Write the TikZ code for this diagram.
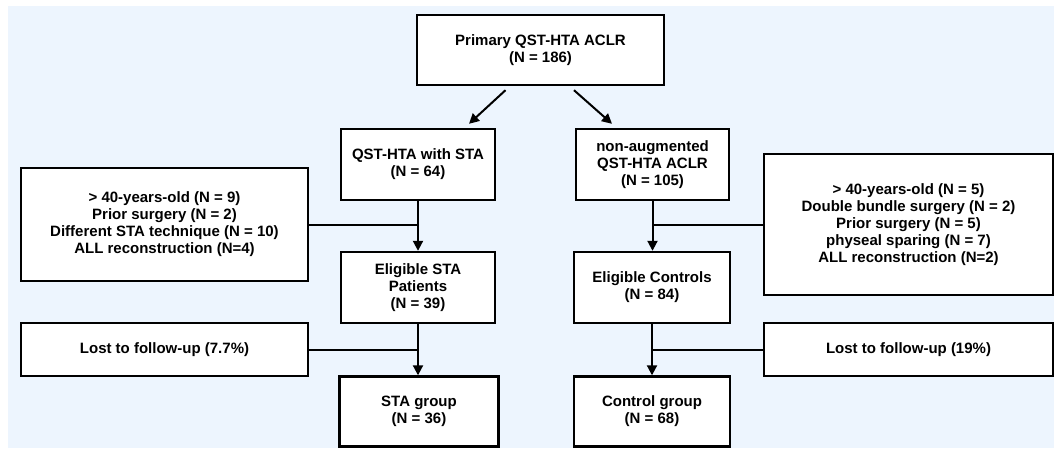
\documentclass[tikz,border=0pt]{standalone}
\usepackage{fontspec}
\setmainfont{Liberation Sans}
\usetikzlibrary{arrows.meta}
\usetikzlibrary{shapes,positioning}
\definecolor{panel}{RGB}{237,245,254}
\tikzset{>={Triangle[length=10pt,width=10pt]},
  flowbox/.style={draw,line width=2.4pt,fill=white,align=center,inner sep=0pt,
    font=\fontsize{15}{17}\selectfont\bfseries},
  link/.style={line width=2pt}}
\begin{document}
\begin{tikzpicture}[x=1pt,y=-1pt,line cap=butt]

  \useasboundingbox (0,0) rectangle (1054,448);
  \fill [panel] (8,6) rectangle (1054,448);

  % top box
  \node [flowbox,minimum width=247pt,minimum height=70pt] (primary) at (540.5,50) {Primary QST-HTA ACLR\\(N = 186)};

  % second row
  \node [flowbox,minimum width=154pt,minimum height=71pt] (withsta) at (418,164.5) {QST-HTA with STA\\(N = 64)};
  \node [flowbox,minimum width=153pt,minimum height=71pt] (nonaug) at (652.5,164.5) {non-augmented\\QST-HTA ACLR\\(N = 105)};

  % exclusions
  \node [flowbox,minimum width=287pt,minimum height=113pt] (exclsta) at (164.5,224.5) {> 40-years-old (N = 9)\\Prior surgery (N = 2)\\Different STA technique (N = 10)\\ALL reconstruction (N=4)};
  \node [flowbox,minimum width=289pt,minimum height=141pt] (exclctrl) at (908.5,224.5) {> 40-years-old (N = 5)\\Double bundle surgery (N = 2)\\Prior surgery (N = 5)\\physeal sparing (N = 7)\\ALL reconstruction (N=2)};

  % eligible
  \node [flowbox,minimum width=154pt,minimum height=71pt] (eligsta) at (418,287.5) {Eligible STA\\Patients\\(N = 39)};
  \node [flowbox,minimum width=156pt,minimum height=71pt] (eligctrl) at (652,287.5) {Eligible Controls\\(N = 84)};

  % lost to follow-up
  \node [flowbox,minimum width=287pt,minimum height=53pt] (loststa) at (164.5,349.5) {Lost to follow-up (7.7\%)};
  \node [flowbox,minimum width=289pt,minimum height=53pt] (lostctrl) at (908.5,349.5) {Lost to follow-up (19\%)};

  % groups
  \node [flowbox,minimum width=159pt,minimum height=70pt] (stagroup) at (419,411.5) {STA group\\(N = 36)};
  \node [flowbox,minimum width=156pt,minimum height=70pt] (ctrlgroup) at (652,411.5) {Control group\\(N = 68)};

  % connectors
  \draw [link,->] ([xshift=-35pt,yshift=-4pt]primary.south) -- ([xshift=51pt,yshift=4pt]withsta.north);
  \draw [link,->] ([xshift=33.5pt,yshift=-4pt]primary.south) -- ([xshift=-40.5pt,yshift=4pt]nonaug.north);

  \draw [link,->] (withsta.south) -- (eligsta.north);
  \draw [link] (exclsta.east) -- (exclsta.east -| withsta.south);
  \draw [link,->] (eligsta.south) -- (eligsta.south |- stagroup.north);
  \draw [link] (loststa.east) -- (loststa.east -| eligsta.south);

  \draw [link,->] (nonaug.south) -- (nonaug.south |- eligctrl.north);
  \draw [link] (exclctrl.west) -- (exclctrl.west -| nonaug.south);
  \draw [link,->] (eligctrl.south) -- (ctrlgroup.north);
  \draw [link] (lostctrl.west) -- (lostctrl.west -| eligctrl.south);

\end{tikzpicture}
\end{document}
